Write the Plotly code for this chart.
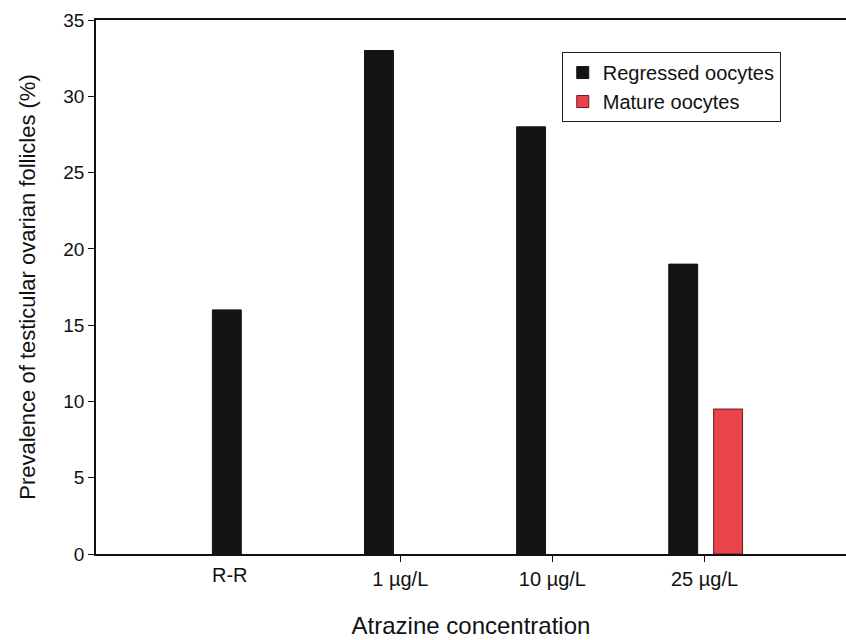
import plotly.graph_objects as go

categories = ["R-R", "1 µg/L", "10 µg/L", "25 µg/L"]
positions = [0, 1, 2, 3]
regressed = [16, 33, 28, 19]
mature = [None, None, None, 9.5]
y_ticks = [0, 5, 10, 15, 20, 25, 30, 35]

FONT = "Liberation Sans, Arial, sans-serif"

fig = go.Figure()
fig.add_trace(go.Bar(
    x=positions, y=regressed, name="Regressed oocytes",
    marker=dict(color="#141414", line=dict(color="#141414", width=1)),
    width=0.19, offset=-0.235,
))
fig.add_trace(go.Bar(
    x=positions, y=mature, name="Mature oocytes",
    marker=dict(color="#e8444a", line=dict(color="#6b1a1a", width=1)),
    width=0.19, offset=0.06,
))

fig.update_layout(
    width=846, height=640,
    margin=dict(l=96, r=0, t=20, b=86),
    paper_bgcolor="white", plot_bgcolor="white",
    font=dict(family=FONT, color="#111111", size=20),
    showlegend=True,
    legend=dict(
        x=0.621, y=0.94, xanchor="left", yanchor="top",
        bordercolor="#222222", borderwidth=1, bgcolor="white",
        font=dict(size=20, family=FONT), traceorder="normal",
        tracegroupgap=0, itemwidth=30,
    ),
    xaxis=dict(
        range=[-1.0, 3.93], tickmode="array",
        tickvals=positions[1:], ticktext=categories[1:],
        ticks="outside", ticklen=6, tickcolor="#111111",
        showline=True, linecolor="#111111", linewidth=1.5, mirror=True,
        showgrid=False, zeroline=False,
        tickfont=dict(size=20),
        title=dict(text="Atrazine concentration", font=dict(size=24), standoff=28),
    ),
    yaxis=dict(
        range=[0, 35], tickmode="array", tickvals=y_ticks,
        ticks="outside", ticklen=6, tickcolor="#111111",
        showline=True, linecolor="#111111", linewidth=1.5,
        showgrid=False, zeroline=False,
        tickfont=dict(size=19),
        title=dict(text="Prevalence of testicular ovarian follicles (%)", font=dict(size=22), standoff=22),
    ),
)

fig.add_annotation(
    x=positions[0], y=0, xref="x", yref="y", text=categories[0],
    showarrow=False, yanchor="top", xanchor="center", xshift=-18, yshift=-8,
    font=dict(size=20, family=FONT, color="#111111"),
)

fig.write_html("out.html")
